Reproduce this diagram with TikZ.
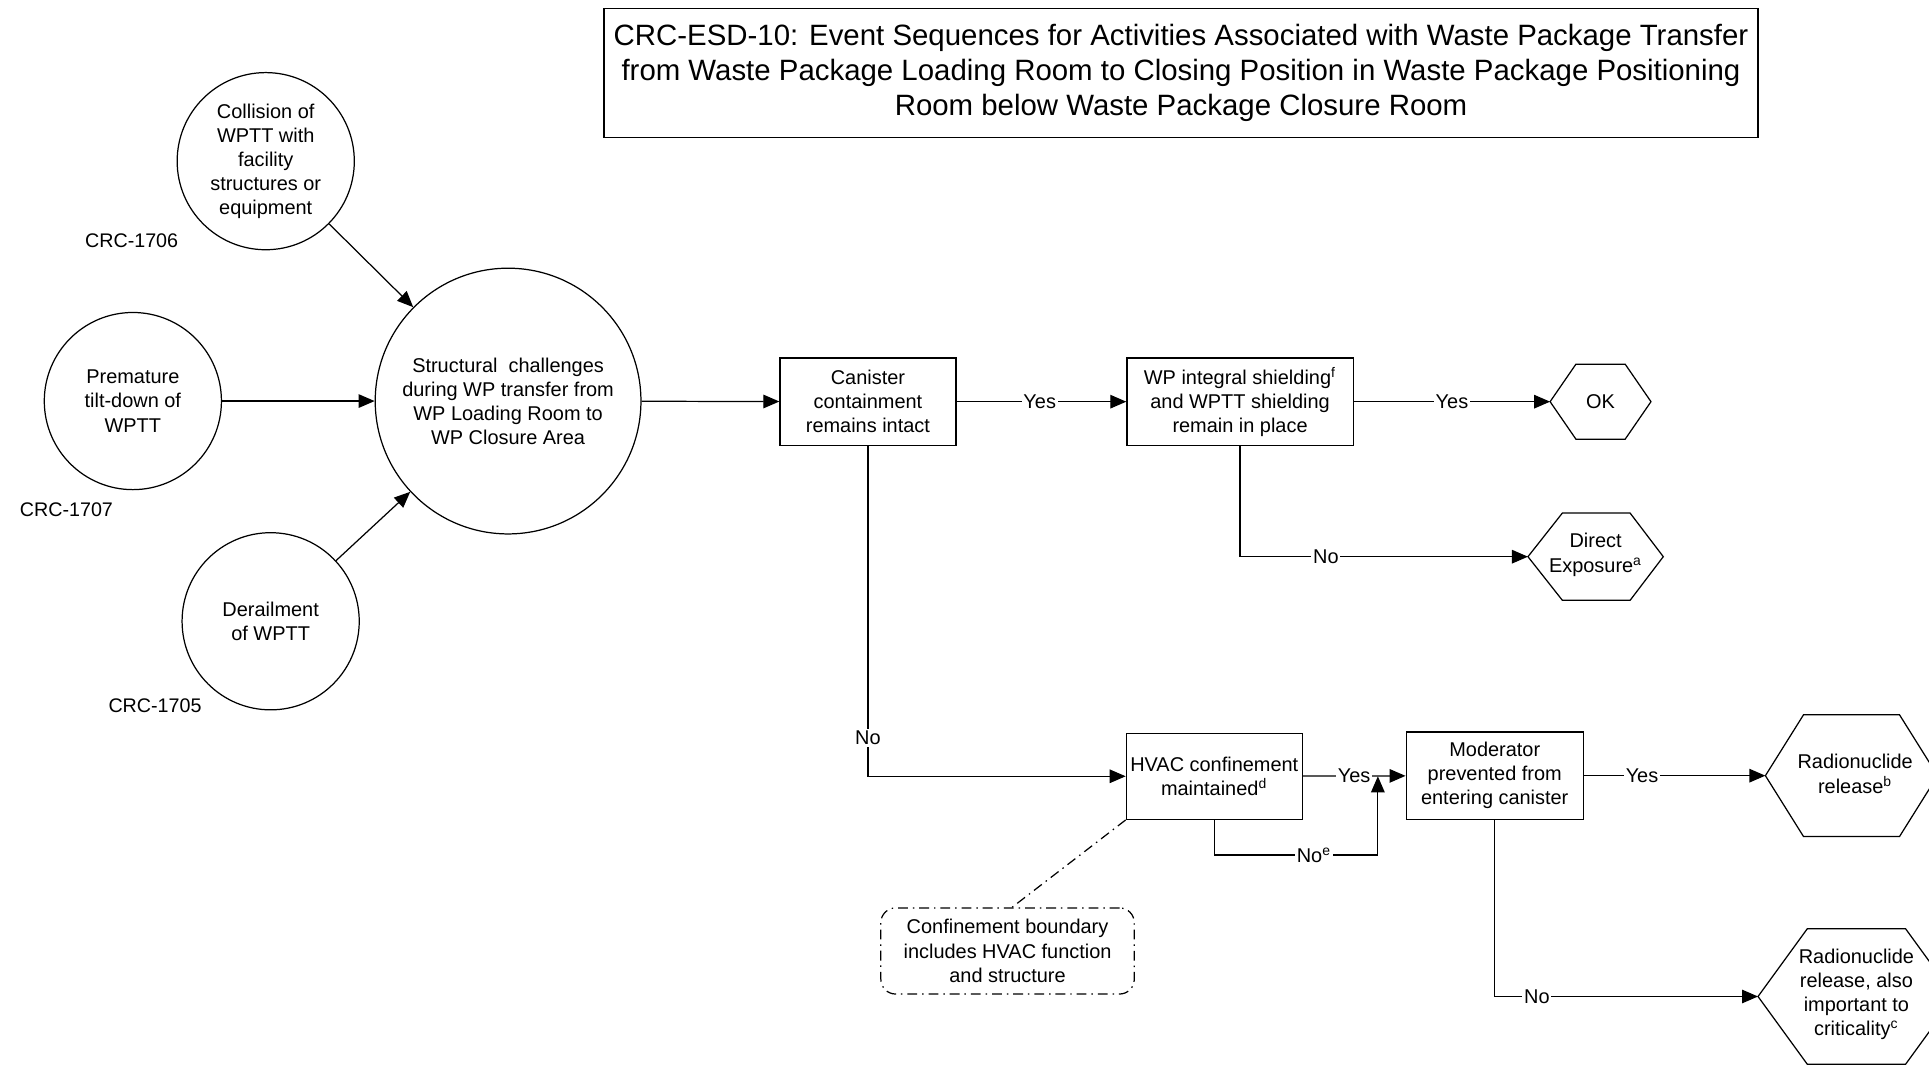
\documentclass[tikz,border=0pt]{standalone}
\usepackage{fontspec}
\setmainfont{Liberation Sans}
\usetikzlibrary{arrows.meta}

\begin{document}
\begin{tikzpicture}[x=0.5pt,y=-0.5pt,
  every node/.style={font=\fontsize{8.1}{9.8}\selectfont, align=center, inner sep=0pt},
  evt/.style={draw, circle, line width=0.5pt},
  box/.style={draw, rectangle, line width=0.5pt},
  link/.style={line width=0.5pt, -{Triangle[length=6.5pt,width=5.5pt]}},
  plain/.style={line width=0.5pt},
  lbl/.style={fill=white, inner sep=0.7pt},
  hexa/.style={line width=0.5pt, line join=miter},
  idtag/.style={font=\fontsize{8}{9.7}\selectfont},
  dashdot/.style={line width=0.5pt, dash pattern=on 4pt off 2pt on 0.6pt off 2pt}]
\useasboundingbox (0,0) rectangle (1568,867);

% title
\node[box, minimum width=469pt, minimum height=52.5pt,
      font=\fontsize{11.95}{14.3}\selectfont] (title) at (960,59.5)
  {CRC-ESD-10: Event Sequences for Activities Associated with Waste Package Transfer\\
   from Waste Package Loading Room to Closing Position in Waste Package Positioning\\
   Room below Waste Package Closure Room};

% initiating events
\node[evt, minimum size=72pt] (coll) at (216,131)
  {Collision of\\WPTT with\\facility\\structures or\\equipment};
\node[evt, minimum size=72pt] (prem) at (108,326) {Premature\\tilt-down of\\WPTT};
\node[evt, minimum size=72pt] (der) at (220,505) {Derailment\\of WPTT};
\node[idtag] (t1706) at (107,196) {CRC-1706};
\node[idtag] (t1707) at (54,414) {CRC-1707};
\node[idtag] (t1705) at (126,574) {CRC-1705};

\node[evt, minimum size=108pt] (main) at (413,326)
  {Structural\ \ challenges\\during WP transfer from\\WP Loading Room to\\WP Closure Area};

% pivotal events
\node[box, minimum width=71.5pt, minimum height=35.5pt] (can) at (705.5,326.5)
  {Canister\\containment\\remains intact};
\node[box, minimum width=92pt, minimum height=35.5pt] (wps) at (1008,326.5)
  {WP integral shielding\textsuperscript{f}\\and WPTT shielding\\remain in place};
\node[box, minimum width=71.5pt, minimum height=35pt] (hvac) at (987,631)
  {HVAC confinement\\maintained\textsuperscript{d}};
\node[box, minimum width=72pt, minimum height=35.5pt] (mod) at (1215,630.5)
  {Moderator\\prevented from\\entering canister};

% end states
\draw[hexa] (1260,326.5) -- (1281,296) -- (1321,296) -- (1342,326.5) -- (1321,357) -- (1281,357) -- cycle;
\coordinate (okin) at (1260,326.5);
\node (ok) at (1301,326.5) {OK};

\draw[hexa] (1242,452.5) -- (1270,417) -- (1325,417) -- (1352,452.5) -- (1325,488) -- (1270,488) -- cycle;
\coordinate (dein) at (1242,452.5);
\node (de) at (1297,451) {Direct\\Exposure\textsuperscript{a}};

\draw[hexa] (1435,630.5) -- (1466,581) -- (1544,581) -- (1575,630.5) -- (1544,680) -- (1466,680) -- cycle;
\coordinate (rrin) at (1435,630.5);
\node (rr) at (1508,629) {Radionuclide\\release\textsuperscript{b}};

\draw[hexa] (1429,810) -- (1469,755) -- (1549,755) -- (1589,810) -- (1549,865) -- (1469,865) -- cycle;
\coordinate (rcin) at (1429,810);
\node (rc) at (1509,808) {Radionuclide\\release, also\\important to\\criticality\textsuperscript{c}};

% note
\node[dashdot, draw, rounded corners=6pt, minimum width=103pt, minimum height=35pt] (conf) at (819,773)
  {Confinement boundary\\includes HVAC function\\and structure};
\draw[dashdot] (hvac.south west) -- (822,738);

% connectors
\draw[link] (coll) -- (main);
\draw[link] (prem) -- (main);
\draw[link] (der) -- (main);
\draw[link] (main) -- (can);

\draw[link] (can) -- node[lbl, pos=0.49] (ly1) {Yes} (wps);
\draw[link] (wps) -- node[lbl, pos=0.5] (ly2) {Yes} (okin);
\draw[link] (wps.south) |- node[lbl, pos=0.649] (ln1) {No} (dein);
\draw[link] (can.south) |- node[lbl, pos=0.442] (ln2) {No} (hvac.west);
\coordinate (hvyes) at (1120,631);
\draw[link] (hvac) -- node[lbl, pos=0.5] (ly3) {Yes} (mod);
\coordinate (hvbot) at (987,695);
\draw[plain] (hvac.south) -- (hvbot) -- node[lbl, pos=0.61] (ln3) {No\textsuperscript{e}} (1120,695) coordinate (hvcorner);
\draw[link] (hvcorner) -- (hvyes);
\draw[link] (mod) -- node[lbl, pos=0.32] (ly4) {Yes} (rrin);
\draw[link] (mod.south) |- node[lbl, pos=0.58] (ln4) {No} (rcin);

\end{tikzpicture}
\end{document}
